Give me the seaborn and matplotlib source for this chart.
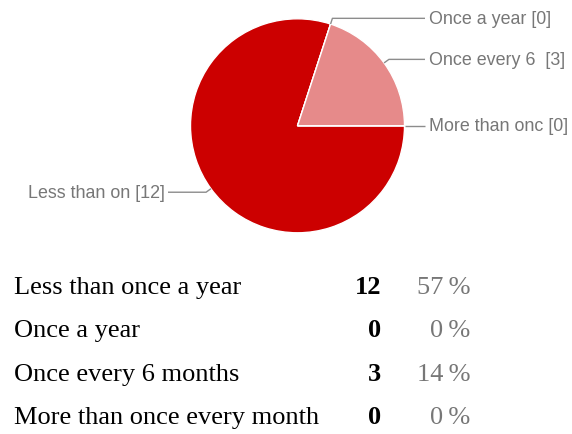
import numpy as np
import matplotlib
matplotlib.use("Agg")
import matplotlib.pyplot as plt
import seaborn as sns

# Survey answers
categories = ["Less than once a year", "Once a year", "Once every 6 months",
              "More than once every month"]
pie_labels = ["Less than on", "Once a year", "Once every 6 ", "More than onc"]
counts = [12, 0, 3, 0]
percents = [57, 0, 14, 0]

sns.set_theme(style="white")
plt.rcParams["font.family"] = ["Liberation Sans", "DejaVu Sans"]

slice_colors = sns.color_palette(["#cc0000", "#cc0000", "#e68a8a", "#e68a8a"])

W, H = 572, 435
fig = plt.figure(figsize=(W / 100, H / 100), dpi=100)
ax = fig.add_axes([0, 0, 1, 1])

cx, cy, r = 297.5, H - 126.8, 107.0
wedges, _ = ax.pie(counts, colors=slice_colors, startangle=0, counterclock=False,
                   center=(cx, cy), radius=r, frame=True,
                   wedgeprops=dict(edgecolor="white", linewidth=1.0))
ax.set_xlim(0, W)
ax.set_ylim(0, H)
ax.set_aspect("equal")
ax.axis("off")

label_color = "#777777"
line_color = "#8c8c8c"
for w, name, n in zip(wedges, pie_labels, counts):
    mid = np.deg2rad((w.theta1 + w.theta2) / 2)
    # leader line: edge point -> short radial step -> horizontal run
    ex, ey = cx + r * np.cos(mid), cy + r * np.sin(mid)
    kx, ky = cx + (r + 6) * np.cos(mid), cy + (r + 6) * np.sin(mid)
    text = f"{name} [{n}]"
    if np.cos(mid) >= -1e-9:
        ax.plot([ex, kx, 425], [ey, ky, ky], color=line_color, lw=1.0,
                solid_capstyle="butt")
        ax.text(429, ky, text, ha="left", va="center", fontsize=12.9,
                color=label_color)
    else:
        ax.plot([ex, kx, 168], [ey, ky, ky], color=line_color, lw=1.0,
                solid_capstyle="butt")
        ax.text(165, ky, text, ha="right", va="center", fontsize=12.9,
                color=label_color)

# Summary table under the pie
baselines = [294, 337.5, 381, 424.5]
serif = ["Liberation Serif", "DejaVu Serif"]
for yb, cat, n, p in zip(baselines, categories, counts, percents):
    y = H - yb
    ax.text(14, y, cat, ha="left", va="baseline", fontsize=19,
            family=serif, color="black")
    ax.text(381, y, f"{n}", ha="right", va="baseline", fontsize=19,
            family=serif, fontweight="bold", color="black")
    ax.text(470, y, f"{p}\u2009%", ha="right", va="baseline", fontsize=19,
            family=serif, color=label_color)

fig.savefig("out.png", dpi=100, facecolor="white")
